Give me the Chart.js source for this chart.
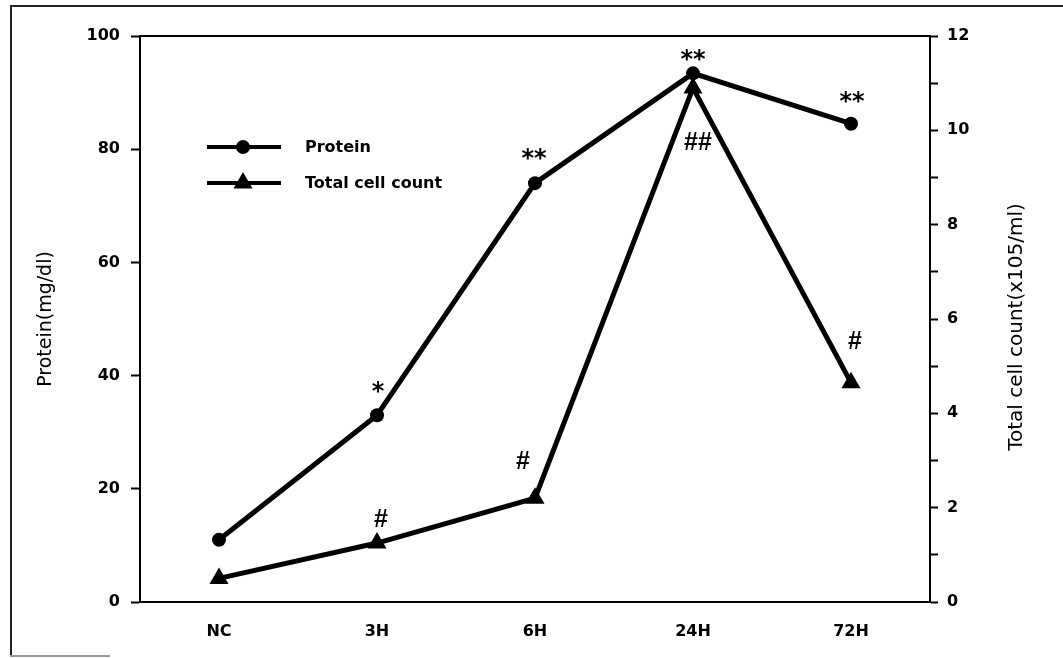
<!DOCTYPE html>
<html>
<head>
<meta charset="utf-8">
<script src="https://cdn.jsdelivr.net/npm/chart.js@4.4.1/dist/chart.umd.min.js"></script>
<style>
  html, body { margin: 0; padding: 0; background: #fff; }
  #wrap { position: relative; width: 1063px; height: 658px; overflow: hidden; }
  #chart { position: absolute; left: 0; top: 0; display: block; }
  #frameL { position: absolute; left: 10px; top: 5px; width: 0; height: 652px; border-left: 2px solid #222; }
  #frameT { position: absolute; left: 10px; top: 5px; width: 1053px; height: 0; border-top: 2px solid #222; }
  #frameB { position: absolute; left: 10px; top: 655px; width: 100px; height: 0; border-top: 2px solid #999; }
</style>
</head>
<body>
<div id="wrap">
  <canvas id="chart" width="1063" height="658"></canvas>
  <div id="frameL"></div>
  <div id="frameT"></div>
  <div id="frameB"></div>
</div>
<script>
const categories = ['NC', '3H', '6H', '24H', '72H'];
const proteinValues = [11, 33, 74, 93.4, 84.5];
const cellCountValues = [0.5, 1.25, 2.2, 10.9, 4.65];
const proteinTicks = [0, 20, 40, 60, 80, 100];
const cellTicks = [0, 2, 4, 6, 8, 10, 12];
const proteinMarks = ['', '*', '**', '**', '**'];
const cellMarks = ['', '#', '#', '##', '#'];

const FONT = 'DejaVu Sans';
const leftTitle = 'Protein(mg/dl)';
const rightTitle = 'Total cell count(x105/ml)';

// top edge of the plot box
const topEdge = {
    id: 'topEdge',
    afterDraw(chart) {
        const { ctx, chartArea } = chart;
        ctx.save();
        ctx.strokeStyle = '#000';
        ctx.lineWidth = 2;
        ctx.beginPath();
        ctx.moveTo(chartArea.left, chartArea.top);
        ctx.lineTo(chartArea.right, chartArea.top);
        ctx.stroke();
        ctx.restore();
    }
};

// right axis title reads bottom to top, like the left one
const sideTitle = {
    id: 'sideTitle',
    afterDraw(chart, args, opts) {
        const { ctx, chartArea } = chart;
        ctx.save();
        ctx.translate(opts.x, (chartArea.top + chartArea.bottom) / 2 + opts.dy);
        ctx.rotate(-Math.PI / 2);
        ctx.font = '20px "' + FONT + '"';
        ctx.fillStyle = '#000';
        ctx.textAlign = 'center';
        ctx.textBaseline = 'middle';
        ctx.fillText(opts.text, 0, 0);
        ctx.restore();
    }
};

// significance marks above / below points
const sigMarks = {
    id: 'sigMarks',
    afterDatasetsDraw(chart, args, opts) {
        const ctx = chart.ctx;
        opts.sets.forEach(set => {
            const meta = chart.getDatasetMeta(set.dataset);
            ctx.save();
            ctx.font = set.font;
            ctx.fillStyle = '#000';
            ctx.textAlign = 'center';
            ctx.textBaseline = 'alphabetic';
            set.marks.forEach((m, i) => {
                if (!m) return;
                const pt = meta.data[i];
                const off = set.offsets[i];
                ctx.fillText(m, pt.x + off[0], pt.y + off[1] + set.lift);
            });
            ctx.restore();
        });
    }
};

// legend with a line through the marker, placed inside the plot
const lineLegend = {
    id: 'lineLegend',
    afterDraw(chart, args, opts) {
        const ctx = chart.ctx;
        chart.data.datasets.forEach((ds, i) => {
            const y = opts.y + i * opts.rowGap;
            ctx.save();
            ctx.strokeStyle = '#000';
            ctx.lineWidth = opts.lineWidth;
            ctx.beginPath();
            ctx.moveTo(opts.x1, y);
            ctx.lineTo(opts.x2, y);
            ctx.stroke();
            ctx.fillStyle = '#000';
            Chart.helpers.drawPoint(ctx, {
                pointStyle: ds.pointStyle,
                radius: ds.pointRadius,
                borderWidth: 0,
                rotation: 0
            }, opts.markerX, y);
            ctx.font = 'bold 16px "' + FONT + '"';
            ctx.textAlign = 'left';
            ctx.textBaseline = 'middle';
            ctx.fillText(ds.label, opts.textX, y + 1);
            ctx.restore();
        });
    }
};

const ctx = document.getElementById('chart').getContext('2d');

new Chart(ctx, {
    type: 'line',
    data: {
        labels: categories,
        datasets: [{
            label: 'Protein',
            data: proteinValues,
            yAxisID: 'y',
            borderColor: '#000',
            borderWidth: 5,
            pointStyle: 'circle',
            pointRadius: 7,
            pointBackgroundColor: '#000',
            pointBorderWidth: 0,
            tension: 0
        }, {
            label: 'Total cell count',
            data: cellCountValues,
            yAxisID: 'y1',
            borderColor: '#000',
            borderWidth: 5,
            pointStyle: 'triangle',
            pointRadius: 11,
            pointBackgroundColor: '#000',
            pointBorderWidth: 0,
            tension: 0
        }]
    },
    options: {
        responsive: false,
        animation: false,
        layout: { padding: { top: 36, left: 0, right: 0, bottom: 0 } },
        scales: {
            x: {
                type: 'category',
                offset: true,
                grid: { display: false, drawTicks: false },
                border: { display: true, color: '#000', width: 2 },
                ticks: {
                    color: '#000',
                    padding: 20,
                    font: { family: FONT, size: 16, weight: 'bold' }
                },
                afterFit: s => { s.height = 56; }
            },
            y: {
                position: 'left',
                min: proteinTicks[0],
                max: proteinTicks[proteinTicks.length - 1],
                grid: { drawOnChartArea: false, tickLength: 9, tickWidth: 2, tickColor: '#000' },
                border: { display: true, color: '#000', width: 2 },
                ticks: {
                    stepSize: proteinTicks[1] - proteinTicks[0],
                    color: '#000',
                    padding: 11,
                    font: { family: FONT, size: 16, weight: 'bold' }
                },
                title: {
                    display: true,
                    text: leftTitle,
                    color: '#000',
                    font: { family: FONT, size: 19 },
                    padding: { top: 35, bottom: 0 }
                },
                afterFit: s => { s.width = 140; }
            },
            y1: {
                position: 'right',
                min: cellTicks[0],
                max: cellTicks[cellTicks.length - 1],
                grid: { drawOnChartArea: false, tickLength: 8, tickWidth: 2, tickColor: '#000' },
                border: { display: true, color: '#000', width: 2 },
                ticks: {
                    stepSize: 1,
                    autoSkip: false,
                    color: '#000',
                    padding: 9,
                    font: { family: FONT, size: 16, weight: 'bold' },
                    callback: v => cellTicks.includes(v) ? String(v) : ''
                },
                afterFit: s => { s.width = 133; }
            }
        },
        plugins: {
            legend: { display: false },
            tooltip: { enabled: false },
            sideTitle: { text: rightTitle, x: 1017, dy: 8 },
            lineLegend: { x1: 207, x2: 281, markerX: 243, textX: 305, y: 147, rowGap: 36, lineWidth: 4 },
            sigMarks: {
                sets: [{
                    dataset: 0,
                    marks: proteinMarks,
                    font: 'bold 24px "' + FONT + '"',
                    lift: 14,
                    offsets: [[0, 0], [1, -30], [-1, -31], [0, -20], [1, -29]]
                }, {
                    dataset: 1,
                    marks: cellMarks,
                    font: 'bold 25px "Liberation Sans", Arial, sans-serif',
                    lift: 9,
                    offsets: [[0, 0], [4, -25], [-12, -38], [5, 53], [4, -43]]
                }]
            }
        }
    },
    plugins: [topEdge, sideTitle, sigMarks, lineLegend]
});
</script>
</body>
</html>
